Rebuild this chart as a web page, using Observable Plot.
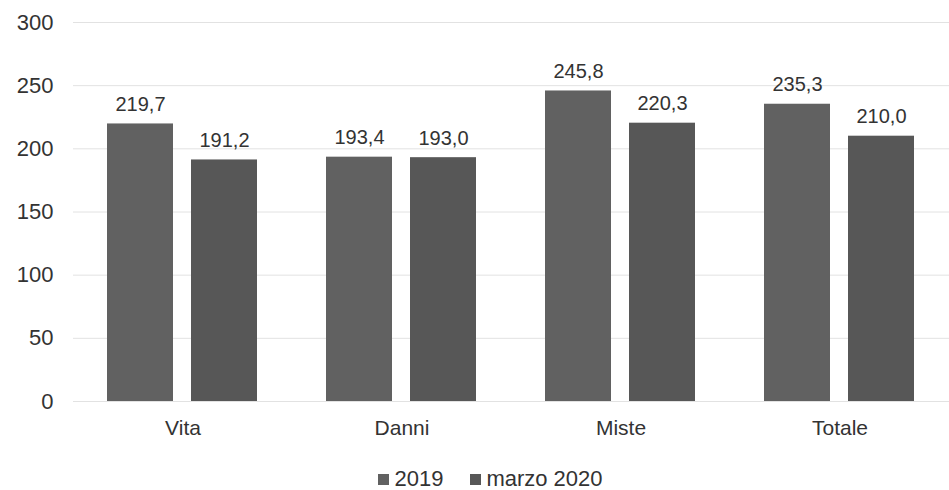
<!DOCTYPE html>
<html>
<head>
<meta charset="utf-8">
<script src="https://cdn.jsdelivr.net/npm/d3@7"></script>
<script src="https://cdn.jsdelivr.net/npm/@observablehq/plot@0.6"></script>
<style>
  body { margin: 0; background: #fff; font-family: "Liberation Sans", Arial, sans-serif; }
  #chart { width: 949px; }
  .legend { display: flex; justify-content: center; gap: 27px; font-size: 22px; color: #333; margin-top: 21px; padding-left: 32px; }
  .legend span.item { display: inline-flex; align-items: center; }
  .legend span.sw { display: inline-block; width: 11px; height: 11px; margin-right: 5px; }
</style>
</head>
<body>
<div id="chart"></div>
<script>
const categories = ["Vita", "Danni", "Miste", "Totale"];
const series = ["2019", "marzo 2020"];
const values2019 = [219.7, 193.4, 245.8, 235.3];
const valuesMarzo2020 = [191.2, 193.0, 220.3, 210.0];
const yTicks = [0, 50, 100, 150, 200, 250, 300];
const colors = ["#616161", "#575757"];

const data = [];
categories.forEach((c, i) => {
  data.push({cat: c, serie: series[0], value: values2019[i]});
  data.push({cat: c, serie: series[1], value: valuesMarzo2020[i]});
});
const fmt = v => v.toFixed(1).replace(".", ",");

const chart = Plot.plot({
  width: 949,
  height: 445,
  marginLeft: 70,
  marginRight: 0,
  marginTop: 22,
  marginBottom: 44,
  style: { fontFamily: "'Liberation Sans', Arial, sans-serif", color: "#333", background: "#fff" },
  fx: { domain: categories, paddingInner: 0, paddingOuter: 0, range: [72, 950], label: null },
  x: { domain: series, paddingInner: 0.212, paddingOuter: 0.397, axis: null },
  y: { domain: [0, 300], label: null },
  color: { domain: series, range: colors },
  marks: [
    Plot.ruleY(yTicks, { stroke: "#e2e2e2", strokeWidth: 1 }),
    Plot.axisY(yTicks, { tickSize: 0, tickPadding: 20, fontSize: 22, label: null, fill: "#333" }),
    Plot.axisFx({ anchor: "bottom", tickSize: 0, tickPadding: 19, fontSize: 21, label: null, fill: "#333" }),
    Plot.barY(data, { fx: "cat", x: "serie", y: "value", fill: "serie" }),
    Plot.text(data, { fx: "cat", x: "serie", y: "value", text: d => fmt(d.value), lineAnchor: "bottom", dy: -13, fontSize: 20, fill: "#333" })
  ]
});
document.getElementById("chart").appendChild(chart);

const legend = document.createElement("div");
legend.className = "legend";
series.forEach((s, i) => {
  const item = document.createElement("span");
  item.className = "item";
  const sw = document.createElement("span");
  sw.className = "sw";
  sw.style.background = colors[i];
  item.appendChild(sw);
  item.appendChild(document.createTextNode(s));
  legend.appendChild(item);
});
document.getElementById("chart").appendChild(legend);
</script>
</body>
</html>
